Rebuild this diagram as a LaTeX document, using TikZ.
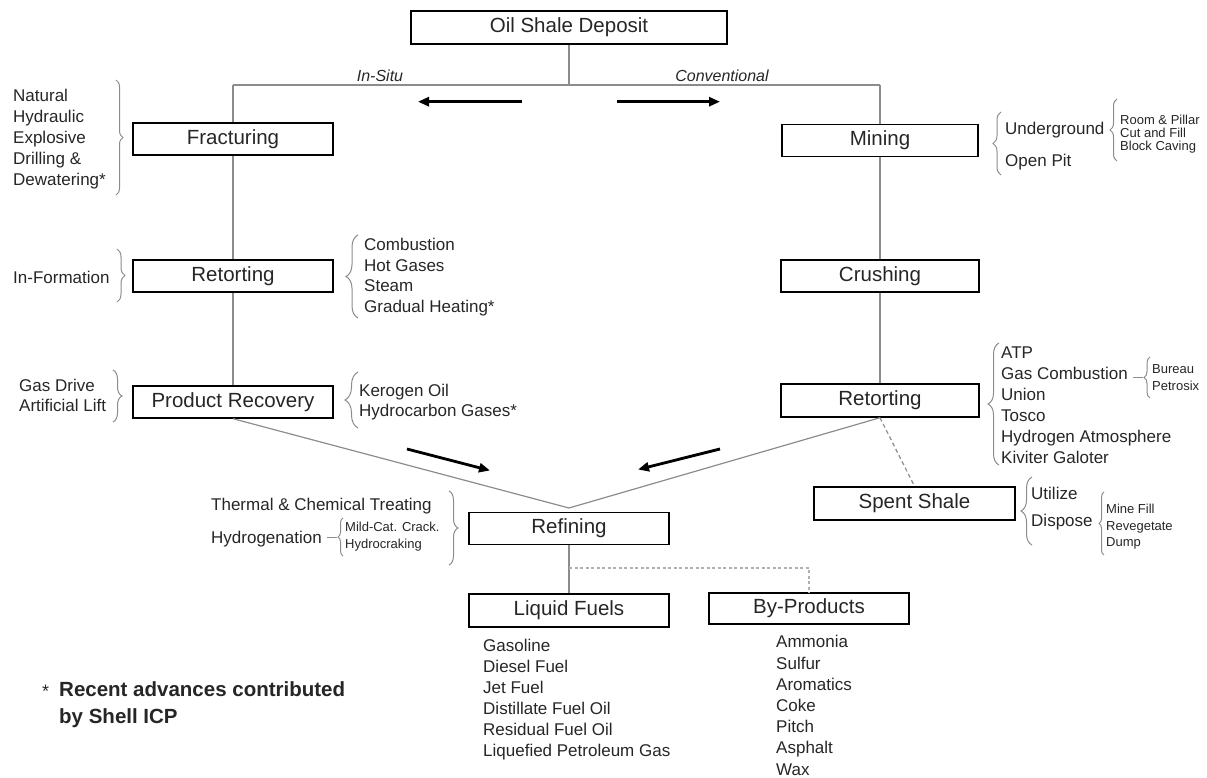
\documentclass[tikz,border=0pt]{standalone}
\usepackage{fontspec}
\setmainfont{Liberation Sans}
\usetikzlibrary{arrows.meta,decorations.pathreplacing}
\definecolor{lin}{gray}{0.55}
\definecolor{txt}{gray}{0.15}
\begin{document}
\begin{tikzpicture}[x=1pt,y=-1pt,
  stagebox/.style={draw=black,line width=1.4pt,minimum width=200pt,minimum height=32pt,inner sep=0pt,font=\fontsize{20.5}{24}\selectfont,text=txt},
  conn/.style={draw=lin,line width=1.2pt},
  bigarrow/.style={draw=black,line width=2.8pt,-{Triangle[length=11pt,width=9pt]}},
  brc/.style={draw=lin,line width=1pt,decorate,decoration={brace,amplitude=#1}},
  brc/.default=7pt,
  item/.style={font=\fontsize{17}{20.8}\selectfont,text=txt,align=left,anchor=west,inner sep=0pt},
  small/.style={font=\fontsize{13}{15}\selectfont,text=txt,align=left,anchor=west,inner sep=0pt},
  ital/.style={font=\fontsize{16}{19}\selectfont\itshape,text=txt,inner sep=0pt}]
\useasboundingbox (0,0) rectangle (1207,778);

% boxes
\node[stagebox,minimum width=316pt,minimum height=33pt] (top) at (569,27.5) {Oil Shale Deposit};
\node[stagebox] (frac) at (233,139) {Fracturing};
\node[stagebox] (retL) at (233,276) {Retorting};
\node[stagebox] (prod) at (233,402) {Product Recovery};
\node[stagebox,minimum width=196pt] (mining) at (880,140.5) {Mining};
\node[stagebox,minimum width=198pt] (crush) at (880,276) {Crushing};
\node[stagebox,minimum width=198pt,minimum height=33pt] (retR) at (880,400.5) {Retorting};
\node[stagebox,minimum width=201pt,minimum height=33pt] (spent) at (914.5,503.5) {Spent Shale};
\node[stagebox] (refin) at (569,528.5) {Refining};
\node[stagebox,minimum height=33pt] (liquid) at (569,610.5) {Liquid Fuels};
\node[stagebox,minimum height=31pt] (byprod) at (809,608.5) {By-Products};

% junctions
\coordinate (split) at (569,85);
\coordinate (jl) at (233,85);
\coordinate (jr) at (880,85);
\coordinate (conv) at (569,508);
\coordinate (dl) at (569,568);
\coordinate (dr) at (809,568);

% connectors
\draw[conn] (top.south) -- (split);
\draw[conn] (jl) -- (jr);
\draw[conn] (jl) -- (frac.north);
\draw[conn] (jr) -- (mining.north);
\draw[conn] (frac) -- (retL);
\draw[conn] (retL) -- (prod);
\draw[conn] (mining) -- (crush);
\draw[conn] (crush) -- (retR);
\draw[conn] (prod.south) -- (conv) -- (retR.south);
\draw[conn,dash pattern=on 4pt off 3pt] (retR.south) -- (spent.north);
\draw[conn] (refin) -- (liquid);
\draw[conn,draw=lin!70,dash pattern=on 3pt off 2.5pt] (dl) -- (dr) -- (byprod.north);

% big arrows
\coordinate (a1s) at (522,101.7); \coordinate (a1e) at (418,101.7);
\coordinate (a2s) at (617,101.7); \coordinate (a2e) at (720,101.7);
\coordinate (a3s) at (407,449);   \coordinate (a3e) at (490,470.5);
\coordinate (a4s) at (720,449);   \coordinate (a4e) at (638,469.5);
\draw[bigarrow] (a1s) -- (a1e);
\draw[bigarrow] (a2s) -- (a2e);
\draw[bigarrow] (a3s) -- (a3e);
\draw[bigarrow] (a4s) -- (a4e);

% branch labels
\node[ital] (insitu) at (380,76) {In-Situ};
\node[ital] (convl) at (722,76) {Conventional};

% braces
\draw[brc=7pt] (116,80) -- (116,195);
\draw[brc=8pt] (117,249) -- (117,302);
\draw[brc=9pt] (113,370) -- (113,422);
\draw[brc=12pt] (358,318) -- (358,235);
\draw[brc=13pt] (358,428) -- (358,372);
\draw[brc=8pt] (1001,175) -- (1001,112);
\draw[brc=7pt] (1117,161) -- (1117,99);
\draw[brc=11pt] (999,465) -- (999,343);
\draw[brc=6pt] (1150,398) -- (1150,357);
\draw[conn,line width=1pt] (1133,377.5) -- (1143,377.5);
\draw[brc=11pt] (1032,545) -- (1032,477);
\draw[brc=5pt] (1104,555) -- (1104,492);
\draw[brc=5pt] (343,556) -- (343,518);
\draw[conn,line width=1pt] (327,537) -- (337,537);
\draw[brc=9pt] (449,491) -- (449,565);

% side lists
\node[item,font=\fontsize{17}{21}\selectfont] (fraclist) at (13,139.5) {Natural\\Hydraulic\\Explosive\\Drilling \&\\Dewatering*};
\node[item] (inform) at (13,277) {In-Formation};
\node[item,font=\fontsize{17}{20}\selectfont] (gasdrive) at (19,395) {Gas Drive\\Artificial Lift};
\node[item,font=\fontsize{17}{20.7}\selectfont] (comb) at (364,277) {Combustion\\Hot Gases\\Steam\\Gradual Heating*};
\node[item,font=\fontsize{17}{20}\selectfont] (kero) at (359,402) {Kerogen Oil\\Hydrocarbon Gases*};
\node[item] (under) at (1005,130) {Underground};
\node[item] (openpit) at (1005,162) {Open Pit};
\node[small,font=\fontsize{13}{13}\selectfont] (room) at (1120,134) {Room \& Pillar\\Cut and Fill\\Block Caving};
\node[item,font=\fontsize{17}{21}\selectfont] (atp) at (1001,405.5) {ATP\\Gas Combustion\\Union\\Tosco\\Hydrogen Atmosphere\\Kiviter Galoter};
\node[small,font=\fontsize{13}{17}\selectfont] (bureau) at (1152,378) {Bureau\\Petrosix};
\node[item] (util) at (1031,493) {Utilize};
\node[item] (dispose) at (1031,522) {Dispose};
\node[small,font=\fontsize{13}{16.5}\selectfont] (minefill) at (1106,527) {Mine Fill\\Revegetate\\Dump};
\node[item] (thermal) at (211,506) {Thermal \& Chemical Treating};
\node[item] (hydrog) at (211,539) {Hydrogenation};
\node[small,font=\fontsize{13}{17}\selectfont] (mild) at (345,536.5) {Mild-Cat. Crack.\\Hydrocraking};

% product lists
\node[item,font=\fontsize{17}{21}\selectfont] (fuels) at (483,699.5) {Gasoline\\Diesel Fuel\\Jet Fuel\\Distillate Fuel Oil\\Residual Fuel Oil\\Liquefied Petroleum Gas};
\node[item,font=\fontsize{17}{21.2}\selectfont] (byl) at (776,705.5) {Ammonia\\Sulfur\\Aromatics\\Coke\\Pitch\\Asphalt\\Wax};

% footnote
\node[anchor=base west,inner sep=0pt,font=\fontsize{18}{20}\selectfont,text=txt] (star) at (42,697.5) {*};
\node[anchor=west,align=left,inner sep=0pt,font=\fontsize{20.5}{27}\selectfont\bfseries,text=txt] (foot) at (59,704.5) {Recent advances contributed\\by Shell ICP};
\end{tikzpicture}
\end{document}
